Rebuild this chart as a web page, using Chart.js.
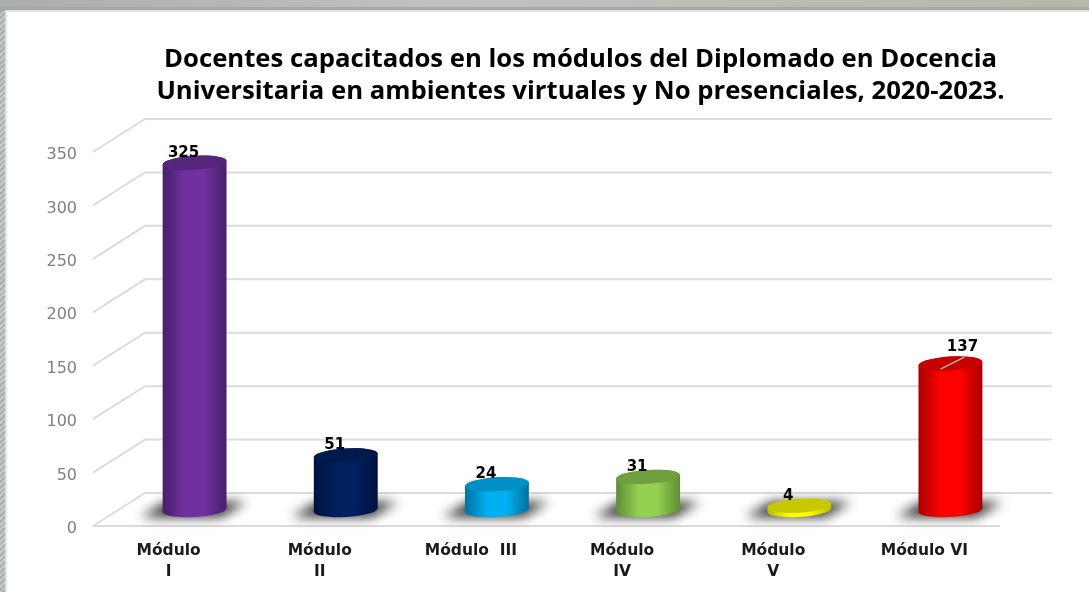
<!DOCTYPE html>
<html>
<head>
<meta charset="utf-8">
<style>
  html, body { margin: 0; height: 100%; overflow: hidden; }
  body {
    background: repeating-linear-gradient(135deg, #a9b0ad 0 2px, #c6cbc9 2px 4px);
  }
  #topbar { position: absolute; left: 0; top: 0; width: 1089px; height: 7px; background: linear-gradient(90deg, #a8aeab, #bfc3bd 40%, #b4b9ac); }
  #strip { position: absolute; left: 0; top: 7px; width: 1089px; height: 4px; background: #a3a8a3; }
  #panel { position: absolute; left: 5px; top: 10px; width: 1082px; height: 580px; background: #fff; border-left: 2px solid #e2e2e2; border-top: 2px solid #e2e2e2; }
  #wrap { position: absolute; left: 0; top: 0; width: 1089px; height: 592px; }
</style>
</head>
<body>
<div id="topbar"></div>
<div id="strip"></div>
<div id="panel"></div>
<div id="wrap"><canvas id="chart"></canvas></div>
<script src="https://cdn.jsdelivr.net/npm/chart.js@4/dist/chart.umd.js"></script>
<script>
const categories = [['Módulo', 'I'], ['Módulo', 'II'], 'Módulo  III', ['Módulo', 'IV'], ['Módulo', 'V'], 'Módulo VI'];
const docentes = [325, 51, 24, 31, 4, 137];
const titleLines = ['Docentes capacitados en los módulos del Diplomado en Docencia', 'Universitaria en ambientes virtuales y No presenciales, 2020-2023.'];

const sideColors = ['#7030a0', '#002060', '#00b0f0', '#92d050', '#ffff00', '#ff0000'];
const edgeColors = ['#47206a', '#00123c', '#00719e', '#5f8c34', '#b8b800', '#a80000'];
const capColors = ['#55267c', '#001a4e', '#0090c6', '#6f9f3e', '#c8c800', '#c60000'];

// the picture is a fake 3D wall: bars sit half way back, gridlines on the back
const backDepth = { x: 52, y: -33 };
const barDepth = { x: 26, y: -16 };
const capRy = 7;
const capTilt = -0.06;
const labelDx = [-11, -11, -11, -11, -11, 12];

Chart.BarElement.prototype.draw = function (ctx) {
  const { x, y, base, width } = this.getProps(['x', 'y', 'base', 'width']);
  const rx = width / 2;
  const i = sideColors.indexOf(this.options.backgroundColor);
  const grad = ctx.createLinearGradient(x - rx, 0, x + rx, 0);
  grad.addColorStop(0, edgeColors[i]);
  grad.addColorStop(0.35, sideColors[i]);
  grad.addColorStop(0.65, sideColors[i]);
  grad.addColorStop(1, edgeColors[i]);
  ctx.save();
  ctx.fillStyle = grad;
  ctx.beginPath();
  ctx.ellipse(x, base, rx, capRy, capTilt, Math.PI, 0, true);
  ctx.ellipse(x, y, rx, capRy, capTilt, 0, Math.PI, true);
  ctx.closePath();
  ctx.fill();
  ctx.fillStyle = capColors[i];
  ctx.beginPath();
  ctx.ellipse(x, y, rx, capRy, capTilt, 0, Math.PI * 2);
  ctx.fill();
  ctx.restore();
};

const wall3d = {
  id: 'wall3d',
  beforeDatasetsDraw(chart) {
    const { ctx, chartArea } = chart;
    const yScale = chart.scales.y;
    ctx.save();
    ctx.strokeStyle = '#dcdcdc';
    ctx.lineWidth = 2;
    yScale.ticks.forEach(t => {
      const py = yScale.getPixelForValue(t.value);
      ctx.beginPath();
      ctx.moveTo(chartArea.left, py);
      ctx.lineTo(chartArea.left + backDepth.x, py + backDepth.y);
      ctx.lineTo(chartArea.right + backDepth.x, py + backDepth.y);
      ctx.stroke();
    });
    const y0 = yScale.getPixelForValue(0);
    ctx.beginPath();
    ctx.moveTo(chartArea.left, y0);
    ctx.lineTo(chartArea.right, y0);
    ctx.stroke();
    // floor shadows
    chart.getDatasetMeta(0).data.forEach(bar => {
      const cx = bar.x + barDepth.x;
      const cy = y0 + barDepth.y;
      ctx.save();
      ctx.filter = 'blur(6px)';
      ctx.fillStyle = '#2a2a2a';
      ctx.beginPath();
      ctx.moveTo(cx - 54, cy + 7);
      ctx.lineTo(cx - 28, cy - 8);
      ctx.lineTo(cx + 52, cy - 8);
      ctx.lineTo(cx + 26, cy + 7);
      ctx.closePath();
      ctx.fill();
      ctx.restore();
    });
    ctx.restore();
    ctx.save();
    ctx.translate(barDepth.x, barDepth.y);
  },
  afterDatasetsDraw(chart) {
    const { ctx } = chart;
    ctx.font = 'bold 15px "DejaVu Sans"';
    ctx.fillStyle = '#000';
    ctx.textAlign = 'center';
    ctx.textBaseline = 'middle';
    chart.getDatasetMeta(0).data.forEach((bar, i) => {
      // the last label has a leader line in the original
      if (i === docentes.length - 1) {
        ctx.strokeStyle = '#b4b4b4';
        ctx.lineWidth = 1.5;
        ctx.beginPath();
        ctx.moveTo(bar.x - 10, bar.y + 5.5);
        ctx.lineTo(bar.x + 14, bar.y - 6.5);
        ctx.stroke();
      }
      const dy = i === docentes.length - 1 ? -16 : -10;
      ctx.fillText(docentes[i], bar.x + labelDx[i], bar.y + dy);
    });
    ctx.restore();
  }
};

new Chart(document.getElementById('chart'), {
  type: 'bar',
  data: {
    labels: categories,
    datasets: [{
      label: 'Docentes',
      data: docentes,
      backgroundColor: sideColors,
      barThickness: 64,
      clip: false
    }]
  },
  options: {
    responsive: true,
    maintainAspectRatio: false,
    animation: false,
    // negative right padding moves the centred title over to where it sits in the original
    layout: { padding: { left: 0, right: -72, top: 0, bottom: 0 } },
    plugins: {
      legend: { display: false },
      tooltip: { enabled: false },
      title: {
        display: true,
        text: titleLines,
        color: '#000',
        font: { family: '"Open Sans"', size: 25.7, weight: 'bold', lineHeight: '32px' },
        padding: { top: 44, bottom: 44 }
      }
    },
    scales: {
      x: {
        grid: { display: false, drawTicks: false },
        border: { display: false },
        afterFit(scale) { scale.height = 66; },
        ticks: {
          color: '#1a1a1a',
          padding: 14,
          maxRotation: 0,
          autoSkip: false,
          font: { family: '"DejaVu Sans"', size: 15.5, weight: 'bold', lineHeight: '21px' }
        }
      },
      y: {
        min: 0,
        max: 350,
        grid: { display: false, drawTicks: false },
        border: { display: false },
        afterFit(scale) { scale.width = 93; },
        ticks: {
          stepSize: 50,
          color: '#808080',
          padding: 16,
          // empty first line with a tiny line height pushes the number 3px down
          callback: v => ['', String(v)],
          font: { family: '"DejaVu Sans"', size: 16, lineHeight: '6px' }
        }
      },
      // empty axis, only keeps the plot clear of the right edge
      spacer: {
        type: 'linear',
        position: 'right',
        grid: { display: false, drawTicks: false },
        border: { display: false },
        ticks: { display: false },
        afterFit(scale) { scale.width = 161; }
      }
    }
  },
  plugins: [wall3d]
});
</script>
</body>
</html>
